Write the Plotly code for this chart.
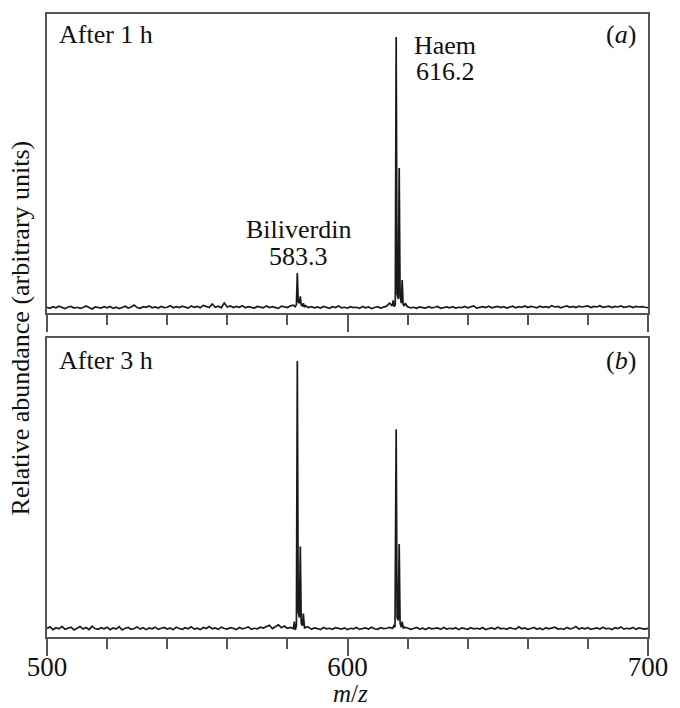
import plotly.graph_objects as go
from plotly.subplots import make_subplots

# ---------------- data ----------------
mz_grid = list(range(500, 701))

noise_a = [
    1.0, 0.6, 1.2, 0.8, 1.4, 0.9, 0.5, 1.1, 1.3, 0.7, 1.0, 0.6, 0.9, 1.5, 0.8, 0.4, 1.1, 0.9, 0.7, 1.2,
    0.8, 1.3, 0.6, 1.0, 0.5, 0.9, 1.4, 0.7, 1.1, 1.8, 0.9, 0.6, 1.2, 1.0, 1.5, 0.8, 1.1, 0.7, 1.3, 0.9,
    1.0, 1.6, 0.8, 1.2, 0.9, 1.4, 1.1, 0.7, 1.5, 1.0, 1.3, 0.8, 1.7, 1.2, 0.9, 2.2, 1.0, 1.4, 0.8, 2.6,
    1.1, 1.5, 0.9, 1.3, 1.0, 1.6, 0.8, 1.2, 1.0, 0.7, 1.3, 1.1, 0.8, 1.5, 0.9, 1.2, 1.0, 0.6, 1.4, 1.1,
    0.9, 1.5, 1.8, 1.2, 1.4, 1.1, 1.6, 0.9, 1.2, 0.8, 1.1, 0.7, 1.3, 1.0, 0.6, 1.2, 0.9, 1.5, 0.8, 1.0,
    0.7, 1.2, 0.9, 1.0, 0.6, 1.3, 0.8, 1.1, 0.5, 0.9, 1.2, 0.7, 1.0, 1.4, 2.5, 3.2, 1.5, 1.2, 1.4, 1.0,
    1.2, 0.8, 1.0, 0.6, 1.1, 0.9, 0.7, 1.2, 0.8, 1.0, 1.3, 0.6, 0.9, 1.1, 0.8, 1.2, 0.7, 1.0, 0.9, 1.3,
    0.8, 1.1, 1.5, 0.7, 1.0, 1.2, 0.9, 1.4, 0.8, 1.1, 1.3, 0.9, 1.2, 0.7, 1.0, 1.4, 0.8, 1.2, 1.0, 1.5,
    0.9, 1.3, 1.1, 0.8, 1.4, 1.0, 1.2, 0.9, 1.6, 1.1, 1.3, 0.8, 1.2, 1.5, 1.0, 1.3, 0.9, 1.4, 1.1, 1.2,
    1.5, 0.9, 1.3, 1.1, 1.6, 1.0, 1.2, 1.4, 0.9, 1.3, 1.1, 1.5, 1.0, 1.2, 1.4, 0.9, 1.3, 1.1, 1.2, 1.0,
    0.9,
]

noise_b = [
    2.0, 2.6, 1.6, 2.3, 1.9, 2.8, 1.7, 2.2, 2.5, 1.5, 2.1, 2.7, 1.8, 2.4, 1.6, 2.9, 2.0, 1.7, 2.3, 1.9,
    2.5, 1.6, 2.2, 1.8, 2.7, 1.5, 2.1, 2.4, 1.7, 2.0, 2.6, 1.8, 2.3, 1.6, 2.2, 1.9, 2.5, 1.7, 2.1, 2.4,
    1.8, 2.2, 1.6, 2.5, 2.0, 1.7, 2.3, 1.9, 2.6, 1.8, 2.1, 1.6, 2.4, 2.0, 2.7, 1.9, 2.2, 1.7, 2.5, 2.0,
    1.8, 2.3, 2.1, 1.6, 2.4, 1.9, 2.2, 2.6, 1.7, 2.1, 1.9, 2.5, 2.2, 2.8, 3.2, 2.0, 2.6, 3.4, 2.3, 2.9,
    2.1, 2.4, 1.9, 2.2, 1.8, 2.3, 1.9, 2.5, 1.7, 2.2, 2.0, 1.6, 2.4, 1.9, 2.1, 1.7, 2.3, 2.0, 1.8, 2.2,
    1.6, 2.1, 1.9, 2.4, 1.7, 2.0, 2.2, 1.8, 2.5, 1.9, 1.7, 2.3, 2.0, 2.1, 2.4, 2.2, 1.9, 2.1, 2.6, 1.8,
    2.2, 1.7, 2.0, 2.4, 1.8, 2.1, 1.6, 2.3, 1.9, 2.0, 2.2, 1.7, 2.4, 1.8, 2.1, 1.9, 2.3, 1.6, 2.2, 2.0,
    1.7, 2.3, 1.9, 2.1, 1.8, 2.4, 1.6, 2.0, 2.2, 1.8, 2.5, 1.9, 2.1, 1.7, 2.3, 2.0, 1.8, 2.6, 1.9, 2.2,
    1.7, 2.0, 2.4, 1.8, 2.1, 1.6, 2.3, 1.9, 2.2, 2.5, 1.8, 2.0, 1.7, 2.4, 1.9, 2.1, 2.7, 1.8, 2.2, 1.9,
    2.3, 1.7, 2.0, 2.2, 1.8, 2.5, 1.9, 2.1, 1.6, 2.3, 2.0, 2.6, 1.8, 2.1, 1.9, 2.4, 1.7, 2.2, 2.0, 1.8,
    2.1,
]

# peak clusters (m/z, relative abundance)
bili_a_mz = [582.6, 583.0, 583.3, 583.6, 584.0, 584.3, 584.6, 585.0, 585.3, 585.7]
bili_a_int = [1.2, 2.0, 13.5, 3.0, 2.5, 5.0, 1.8, 1.5, 2.5, 1.0]
haem_a_mz = [614.9, 615.2, 615.5, 615.9, 616.2, 616.5, 616.9, 617.2, 617.5, 617.9, 618.2, 618.5, 618.9, 619.2]
haem_a_int = [1.5, 3.5, 1.2, 2.0, 100.0, 6.0, 4.0, 52.0, 5.0, 2.5, 11.0, 2.0, 1.5, 2.5]

bili_b_mz = [582.0, 582.3, 582.6, 583.0, 583.3, 583.6, 584.0, 584.3, 584.6, 585.0, 585.3, 585.7, 586.0]
bili_b_int = [2.0, 4.5, 1.5, 3.0, 100.0, 8.0, 6.0, 32.0, 4.0, 3.0, 7.5, 2.0, 2.5]
haem_b_mz = [615.0, 615.4, 615.8, 616.2, 616.5, 616.9, 617.2, 617.5, 617.9, 618.2, 618.6, 619.0]
haem_b_int = [2.0, 3.0, 2.5, 75.0, 6.0, 5.0, 33.0, 4.0, 2.5, 4.5, 2.0, 2.5]

x_ticks = [500, 600, 700]


def merge(grid, noise, clusters):
    pts = []
    for m, v in zip(grid, noise):
        if any(min(cm) <= m <= max(cm) for cm, _ in clusters):
            continue
        pts.append((m, v))
    for cm, ci in clusters:
        pts.extend(zip(cm, ci))
    pts.sort()
    return [p[0] for p in pts], [p[1] for p in pts]


xa, ya = merge(mz_grid, noise_a, [(bili_a_mz, bili_a_int), (haem_a_mz, haem_a_int)])
xb, yb = merge(mz_grid, noise_b, [(bili_b_mz, bili_b_int), (haem_b_mz, haem_b_int)])

# ---------------- figure ----------------
W, H = 680, 708
ML, MR, MT, MB = 47, 23, 14, 71
PH = H - MT - MB
panel_h = 299

fig = make_subplots(rows=2, cols=1, shared_xaxes=False, vertical_spacing=0)
line_style = dict(color="#1a1a1a", width=1.7)
fig.add_trace(go.Scatter(x=xa, y=ya, mode="lines", line=line_style, showlegend=False, hoverinfo="skip"), row=1, col=1)
fig.add_trace(go.Scatter(x=xb, y=yb, mode="lines", line=line_style, showlegend=False, hoverinfo="skip"), row=2, col=1)

SERIF = "Liberation Serif"
frame = "#555555"
TXT = "#111111"

xcommon = dict(
    range=[500, 700], showline=True, linecolor=frame, linewidth=1.5, mirror=True,
    ticks="outside", tickmode="array", tickvals=x_ticks, ticklen=17, tickwidth=1.5, tickcolor=frame,
    minor=dict(dtick=20, tick0=500, ticks="outside", ticklen=10, tickwidth=1.5, tickcolor=frame),
    showgrid=False, zeroline=False,
)
ycommon = dict(
    range=[-1.1, 108.4], showline=True, linecolor=frame, linewidth=1.5, mirror=True,
    ticks="", showticklabels=False, showgrid=False, zeroline=False,
)

fig.update_layout(
    width=W, height=H, margin=dict(l=ML, r=MR, t=MT, b=MB),
    paper_bgcolor="white", plot_bgcolor="white",
    font=dict(family=SERIF, size=25, color=TXT),
    xaxis=dict(**xcommon, showticklabels=False, domain=[0, 1]),
    xaxis2=dict(**xcommon, showticklabels=True, ticktext=[str(v) for v in x_ticks],
                ticklabelstandoff=-12,
                tickfont=dict(family=SERIF, size=27, color=TXT), domain=[0, 1]),
    yaxis=dict(**ycommon, domain=[(PH - panel_h) / PH, 1]),
    yaxis2=dict(**ycommon, domain=[0, panel_h / PH]),
)


def py(p):
    return (H - MB - p) / PH


def px(p):
    return (p - ML) / (W - ML - MR)


ann = [
    ("After 1 h", 57, 35, "left", 26),
    ("(<i>a</i>)", 647, 35, "right", 26),
    ("Haem", 451, 46, "center", 26),
    ("616.2", 451, 72, "center", 26),
    ("Biliverdin", 302, 230, "center", 26),
    ("583.3", 302, 256, "center", 26),
    ("After 3 h", 57, 360, "left", 26),
    ("(<i>b</i>)", 647, 360, "right", 26),
    ("<i>m</i>/<i>z</i>", 355, 693, "center", 25),
]
for text, x, y, anchor, fs in ann:
    fig.add_annotation(text=text, x=px(x), y=py(y), xref="paper", yref="paper",
                       xanchor=anchor, yanchor="middle", showarrow=False,
                       font=dict(family=SERIF, size=fs, color=TXT))

fig.add_annotation(text="Relative abundance (arbitrary units)", textangle=-90,
                   x=px(20), y=py(328), xref="paper", yref="paper",
                   xanchor="center", yanchor="middle", showarrow=False,
                   font=dict(family=SERIF, size=26, color=TXT))

fig.write_html("out.html")
